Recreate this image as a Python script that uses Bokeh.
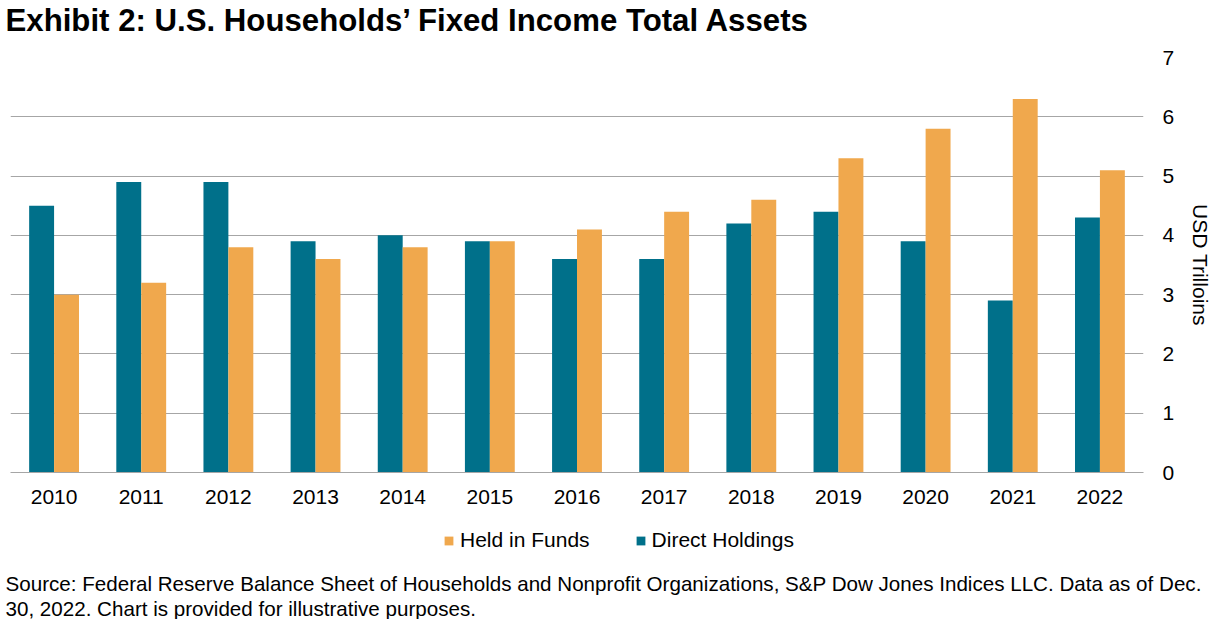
from bokeh.plotting import figure
from bokeh.layouts import column
from bokeh.models import (FactorRange, Range1d, LinearAxis, CategoricalAxis, FixedTicker, Grid,
                          Legend, LegendItem, Title, ColumnDataSource)
from bokeh.transform import dodge
from bokeh.embed import file_html
from bokeh.resources import INLINE

years = ["2010", "2011", "2012", "2013", "2014", "2015", "2016",
         "2017", "2018", "2019", "2020", "2021", "2022"]
direct_holdings = [4.5, 4.9, 4.9, 3.9, 4.0, 3.9, 3.6, 3.6, 4.2, 4.4, 3.9, 2.9, 4.3]
held_in_funds = [3.0, 3.2, 3.8, 3.6, 3.8, 3.9, 4.1, 4.4, 4.6, 5.3, 5.8, 6.3, 5.1]
y_ticks = [0, 1, 2, 3, 4, 5, 6, 7]
series_names = ["Held in Funds", "Direct Holdings"]

TITLE = "Exhibit 2: U.S. Households\u2019 Fixed Income Total Assets"
SOURCE_1 = ("Source: Federal Reserve Balance Sheet of Households and Nonprofit Organizations, "
            "S&P Dow Jones Indices LLC. Data as of Dec.")
SOURCE_2 = "30, 2022. Chart is provided for illustrative purposes."

TEAL = "#00708A"
ORANGE = "#F0A84D"
GRID = "#A6A6A6"
FONT = "Liberation Sans"
FS = "21px"
FS_SRC = "20.6px"
W = 1215
H_HEAD, H_MAIN, H_FOOT = 45, 467, 107
NAN = float("nan")


def blank(height, **borders):
    f = figure(width=W, height=height, x_range=Range1d(0, 1), y_range=Range1d(0, 1),
               output_backend="svg", toolbar_location=None,
               x_axis_location=None, y_axis_location=None,
               min_border_left=10, min_border_right=68, **borders)
    f.outline_line_color = None
    f.xgrid.visible = False
    f.ygrid.visible = False
    return f


# ---- header (title)
head = blank(H_HEAD, min_border_top=37, min_border_bottom=0)
head.add_layout(Title(text=TITLE, text_font=FONT, text_font_size="31.2px",
                      text_font_style="bold", text_color="#000000",
                      align="left", offset=-5, standoff=0), "above")

# ---- main chart
src = ColumnDataSource(dict(year=years, direct=direct_holdings, funds=held_in_funds))

p = figure(width=W, height=H_MAIN, x_range=FactorRange(*years, range_padding=0),
           y_range=Range1d(0, 7), output_backend="svg", toolbar_location=None,
           x_axis_location=None, y_axis_location=None,
           min_border_left=10, min_border_right=68, min_border_top=12, min_border_bottom=40)
p.outline_line_color = None
p.xgrid.visible = False
p.ygrid.visible = False

grid = Grid(dimension=1, ticker=FixedTicker(ticks=y_ticks[:-1]),
            grid_line_color=GRID, grid_line_width=1, level="underlay")
p.add_layout(grid)

r_direct = p.vbar(x=dodge("year", -0.143, range=p.x_range), top="direct", width=0.286,
                  source=src, color=TEAL, line_color=None)
r_funds = p.vbar(x=dodge("year", 0.143, range=p.x_range), top="funds", width=0.286,
                 source=src, color=ORANGE, line_color=None)

yaxis = LinearAxis(ticker=FixedTicker(ticks=y_ticks), axis_label="USD Trilloins",
                   axis_line_color=None, major_tick_line_color=None, minor_tick_line_color=None,
                   major_label_text_font=FONT, major_label_text_font_size=FS,
                   major_label_text_color="#000000", major_label_standoff=13,
                   axis_label_text_font=FONT, axis_label_text_font_size=FS,
                   axis_label_text_font_style="normal", axis_label_text_color="#000000",
                   axis_label_standoff=12)
p.add_layout(yaxis, "right")

xaxis = CategoricalAxis(axis_line_color=GRID, axis_line_width=1,
                        major_tick_line_color=None, minor_tick_line_color=None,
                        major_label_text_font=FONT, major_label_text_font_size=FS,
                        major_label_text_color="#000000", major_label_standoff=11)
p.add_layout(xaxis, "below")

# ---- footer (legend + source)
foot = blank(H_FOOT, min_border_top=0, min_border_bottom=0)
# swatch-only renderers (NaN: nothing drawn in the plot, only the legend keys)
sw_funds = foot.vbar(x=[NAN], top=[NAN], width=0.1, color=ORANGE, line_color=None)
sw_direct = foot.vbar(x=[NAN], top=[NAN], width=0.1, color=TEAL, line_color=None)
legend = Legend(items=[LegendItem(label=series_names[0], renderers=[sw_funds]),
                       LegendItem(label=series_names[1], renderers=[sw_direct])],
                orientation="horizontal", location=(433, 17),
                label_text_font=FONT, label_text_font_size=FS, label_text_color="#000000",
                glyph_width=11, glyph_height=11, label_standoff=6, spacing=45,
                padding=0, margin=0, border_line_color=None, background_fill_alpha=0)
foot.add_layout(legend, "center")
foot.add_layout(Title(text=SOURCE_1, text_font=FONT, text_font_size=FS_SRC, text_font_style="normal",
                      text_color="#000000", align="left", offset=-5, standoff=0), "below")
foot.add_layout(Title(text=SOURCE_2, text_font=FONT, text_font_size=FS_SRC, text_font_style="normal",
                      text_color="#000000", align="left", offset=-5, standoff=0), "below")

layout = column(head, p, foot, spacing=0)
open("out.html", "w").write(file_html(layout, INLINE))
